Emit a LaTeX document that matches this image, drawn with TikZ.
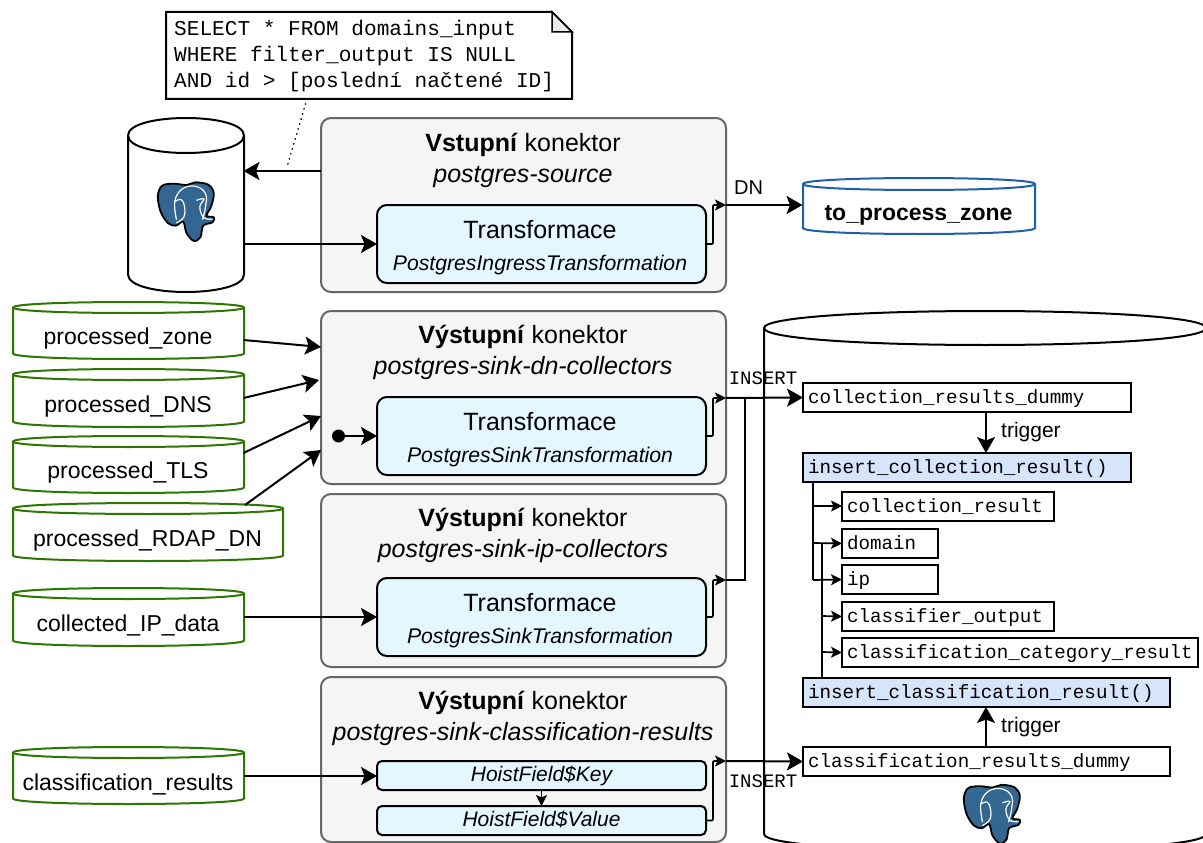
\documentclass[tikz,border=0pt]{standalone}
\usepackage{fontspec}
\setmainfont{Liberation Sans}
\setmonofont{Liberation Mono}
\usetikzlibrary{arrows.meta}

\definecolor{pgblue}{HTML}{336791}
\definecolor{zonegreen}{HTML}{2D7600}
\definecolor{zoneblue}{HTML}{1F5FA8}
\definecolor{connfill}{HTML}{F5F5F5}
\definecolor{connline}{HTML}{666666}
\definecolor{transfill}{HTML}{E4F7FF}
\definecolor{funcfill}{HTML}{D6E5FA}

\tikzset{
	flow/.style={line width=2pt, -{Stealth[length=16pt,width=18pt,inset=3.5pt]}},
	tinyflow/.style={line width=1.7pt, -{Stealth[length=11pt,width=11pt,inset=2.5pt]}},
	dbline/.style={line width=2pt},
	connbox/.style={draw=connline, fill=connfill, line width=2pt, rounded corners=10pt, anchor=north west, outer sep=0pt, inner sep=0pt, minimum width=405pt, minimum height=#1},
	conntitle/.style={font=\fontsize{25}{31}\selectfont, align=center, inner sep=0pt},
	transbox/.style={draw=black, fill=transfill, line width=2pt, rounded corners=10pt, anchor=north west, outer sep=0pt, inner sep=0pt, minimum width=329pt, minimum height=78pt},
	transtext/.style={font=\fontsize{25}{32}\selectfont, align=center, inner sep=0pt},
	hoistbox/.style={draw=black, fill=transfill, line width=2pt, rounded corners=5pt, anchor=north west, outer sep=0pt, inner sep=0pt, minimum width=329pt, minimum height=29pt, text height=15.5pt, text depth=3.5pt, font=\fontsize{21}{25}\selectfont\itshape},
	dbrow/.style={draw=black, line width=2pt, anchor=north west, outer sep=0pt, inner xsep=5pt, inner ysep=0pt, text width=#1-10pt, minimum height=29pt, text height=14pt, text depth=3pt, align=flush left, font=\fontsize{19.2}{23}\selectfont\ttfamily},
	funcrow/.style={dbrow=#1, fill=funcfill},
	edgetext/.style={font=\fontsize{21}{25}\selectfont, inner sep=0pt},
	inserttext/.style={font=\fontsize{19}{23}\selectfont\ttfamily, inner sep=0pt},
	pics/pgelephant/.style={code={
		\begin{scope}[x=.3333pt,y=-.3333pt,shift={(-135,-127)}]
			\draw[fill=pgblue, draw=black, line width=1.8pt] plot[smooth cycle, tension=.55] coordinates {(100,42) (65,48) (52,78) (60,125) (82,160) (106,168) (128,156) (138,190) (160,214) (180,202) (188,168) (216,158) (220,143) (198,138) (212,110) (220,70) (203,45) (165,38) (138,46)};
			\draw[white, line width=1.2pt] plot[smooth, tension=.7] coordinates {(108,150) (103,95) (125,58) (165,50) (195,72) (195,112) (186,150)};
			\draw[white, line width=1.2pt] plot[smooth, tension=.7] coordinates {(104,95) (122,90) (132,110) (130,142) (108,160)};
			\draw[white, line width=1.2pt] plot[smooth, tension=.7] coordinates {(168,92) (190,88) (178,112) (190,144) (216,148)};
		\end{scope}
	}}
}

% name, left, top, width, height, ry, colour, text
\newcommand{\dbcyl}[8]{
	\draw[dbline, #7] (#2,#3+#6) .. controls (#2,#3-#6/3) and (#2+#4,#3-#6/3) .. (#2+#4,#3+#6) -- (#2+#4,#3+#5-#6) .. controls (#2+#4,#3+#5+#6/3) and (#2,#3+#5+#6/3) .. (#2,#3+#5-#6) -- cycle;
	\draw[dbline, #7] (#2,#3+#6) .. controls (#2,#3+#6*7/3) and (#2+#4,#3+#6*7/3) .. (#2+#4,#3+#6);
	\node[inner sep=0pt, outer sep=0pt, minimum width=#4, minimum height=#5-2*#6, font=\fontsize{23}{28}\selectfont] (#1) at (#2+#4/2-.5,#3+#5/2+#6+3) {#8};
}

\begin{document}
\begin{tikzpicture}[x=1pt,y=-1pt]
	\useasboundingbox (0,0) rectangle (1203,843);
	\clip (0,0) rectangle (1203,843);
	
	% databases
	\dbcyl{sourcedb}{128}{118}{116}{174}{17.5}{black}{}
	\dbcyl{targetdb}{764}{311}{442}{540}{17}{black}{}
	\pic at (185.5,212) {pgelephant};
	\pic at (991.5,814.5) {pgelephant};
	
	% topics
	\dbcyl{toZone}{803}{178}{232}{56}{6}{zoneblue}{\textbf{to\_process\_zone}}
	\dbcyl{procZone}{13}{302}{231}{57}{5.5}{zonegreen}{processed\_zone}
	\dbcyl{procDNS}{13}{369}{231}{58}{5.5}{zonegreen}{processed\_DNS}
	\dbcyl{procTLS}{13}{436}{231}{57}{5.5}{zonegreen}{processed\_TLS}
	\dbcyl{procRDAP}{13}{503}{270}{58}{5.5}{zonegreen}{processed\_RDAP\_DN}
	\dbcyl{collIP}{13}{588}{231}{58}{5.5}{zonegreen}{collected\_IP\_data}
	\dbcyl{classRes}{13}{747}{231}{57}{5.5}{zonegreen}{classification\_results}
	
	% SQL note
	\node[anchor=north west, inner sep=0pt, outer sep=0pt, minimum width=406pt, minimum height=87pt] (sql) at (166,12) {};
	\draw[dbline] (sql.north west) -- ([xshift=-20pt]sql.north east) -- ([yshift=-20pt]sql.north east) -- (sql.south east) -- (sql.south west) -- cycle;
	\draw[line width=1.5pt, fill=black!8] ([xshift=-20pt]sql.north east) -- ([xshift=-20pt,yshift=-20pt]sql.north east) -- ([yshift=-20pt]sql.north east) -- cycle;
	\node[anchor=north west, inner sep=0pt, text width=398pt, align=flush left, font=\fontsize{21.1}{26}\selectfont\ttfamily] (sqltext) at (174,20.5) {SELECT * FROM domains\_input\\WHERE filter\_output IS NULL\\AND id > [poslední načtené ID]};
	
	% connectors
	\node[connbox=174pt] (conn1) at (321,118) {};
	\node[connbox=173pt] (conn2) at (321,311) {};
	\node[connbox=173pt] (conn3) at (321,494) {};
	\node[connbox=165pt] (conn4) at (321,677) {};
	
	\node[conntitle] (title1) at (523,160) {\textbf{Vstupní} konektor\\\textit{postgres-source}};
	\node[conntitle] (title2) at (523,352) {\textbf{Výstupní} konektor\\\textit{postgres-sink-dn-collectors}};
	\node[conntitle] (title3) at (523,535) {\textbf{Výstupní} konektor\\\textit{postgres-sink-ip-collectors}};
	\node[conntitle] (title4) at (523,718) {\textbf{Výstupní} konektor\\\textit{postgres-sink-classification-results}};
	
	\node[transbox] (trans1) at (377,205) {};
	\node[transbox] (trans2) at (377,397) {};
	\node[transbox] (trans3) at (377,578) {};
	\node[transtext] (trans1text) at (540,248) {Transformace\\{\fontsize{21.2}{32}\selectfont\itshape PostgresIngressTransformation}};
	\node[transtext] (trans2text) at (540,440) {Transformace\\{\fontsize{21.2}{32}\selectfont\itshape PostgresSinkTransformation}};
	\node[transtext] (trans3text) at (540,621) {Transformace\\{\fontsize{21.2}{32}\selectfont\itshape PostgresSinkTransformation}};
	\node[hoistbox] (hoistKey) at (377,761) {HoistField\$Key};
	\node[hoistbox] (hoistValue) at (377,806) {HoistField\$Value};
	
	% tables
	\node[dbrow=328pt] (dummyColl) at (803,383) {collection\_results\_dummy};
	\node[funcrow=328pt] (insColl) at (803,453) {insert\_collection\_result()};
	\node[dbrow=212pt] (tabResult) at (842,492) {collection\_result};
	\node[dbrow=96pt] (tabDomain) at (842,529) {domain};
	\node[dbrow=96pt] (tabIp) at (842,565) {ip};
	\node[dbrow=212pt] (tabOutput) at (842,602) {classifier\_output};
	\node[dbrow=356pt] (tabCategory) at (842,638) {classification\_category\_result};
	\node[funcrow=367pt] (insClass) at (803,678) {insert\_classification\_result()};
	\node[dbrow=367pt] (dummyClass) at (803,747) {classification\_results\_dummy};
	
	% source side
	\draw[line width=1.9pt, line cap=round, dash pattern=on 0pt off 5.2pt] (sql.south -| 307,0) -- (287,167);
	\draw[flow] (conn1.west |- 0,171) -- (sourcedb.east |- 0,171);
	\draw[flow] (sourcedb.east |- 0,244) -- (trans1.west |- 0,244);
	
	\draw[flow] (procZone.east |- 0,340) -- (conn2.west |- 0,347);
	\draw[flow] (procDNS.east |- 0,398) -- (319,380);
	\draw[flow] (procTLS.east |- 0,453) -- (conn2.west |- 0,416);
	\draw[flow] (245,505) -- (conn2.west |- 0,450);
	\draw[flow] (collIP.east |- 0,617) -- (trans3.west |- 0,617);
	\draw[flow] (classRes.east |- 0,776) -- (hoistKey.west |- 0,776);
	\draw[tinyflow] (hoistKey) -- (hoistValue);
	
	\node[circle, fill=black, inner sep=0pt, minimum size=13pt] (start) at (338.5,436) {};
	\draw[flow] (start) -- (trans2.west |- start);
	
	% outputs
	\coordinate (out1) at (726,205);
	\coordinate (out2) at (726,398);
	\coordinate (out3) at (726,580);
	\coordinate (out4) at (726,761);
	\draw[tinyflow, rounded corners=1pt] (trans1.east) -- ++(7,0) |- (out1);
	\draw[tinyflow, rounded corners=1pt] (trans2.east) -- ++(7,0) |- (out2);
	\draw[tinyflow, rounded corners=1pt] (trans3.east) -- ++(7,0) |- (out3);
	\draw[tinyflow, rounded corners=1pt] (hoistValue.east) -- ++(7,0) |- (out4);
	\draw[flow] (out1) -- (toZone.west |- out1);
	\draw[flow] (out2) -- (dummyColl.west);
	\draw[flow] (out4) -- (dummyClass.west);
	\draw[line width=2pt] (out3) -| (745,398);
	
	\node[edgetext, font=\fontsize{20}{24}\selectfont] (dnlabel) at (748.5,188) {DN};
	\node[inserttext] (insert1) at (763,378.5) {INSERT};
	\node[inserttext] (insert2) at (763,781) {INSERT};
	
	% triggers
	\draw[flow] (dummyColl.south -| 986,0) -- (insColl.north -| 986,0);
	\draw[flow] (dummyClass.north -| 986,0) -- (insClass.south -| 986,0);
	\node[edgetext, anchor=west] (trigger1) at (1001,432) {trigger};
	\node[edgetext, anchor=west] (trigger2) at (1001,727) {trigger};
	
	% inserts into tables
	\draw[line width=2pt] (813,481) -- (813,580);
	\draw[tinyflow] (813,506) -- (tabResult.west |- 0,506);
	\draw[tinyflow] (813,543) -- (tabDomain.west);
	\draw[tinyflow] (813,580) -- (tabIp.west);
	\draw[line width=2pt] (822,678) -- (822,543);
	\draw[tinyflow] (822,616) -- (tabOutput.west);
	\draw[tinyflow] (822,652) -- (tabCategory.west);
\end{tikzpicture}
\end{document}
